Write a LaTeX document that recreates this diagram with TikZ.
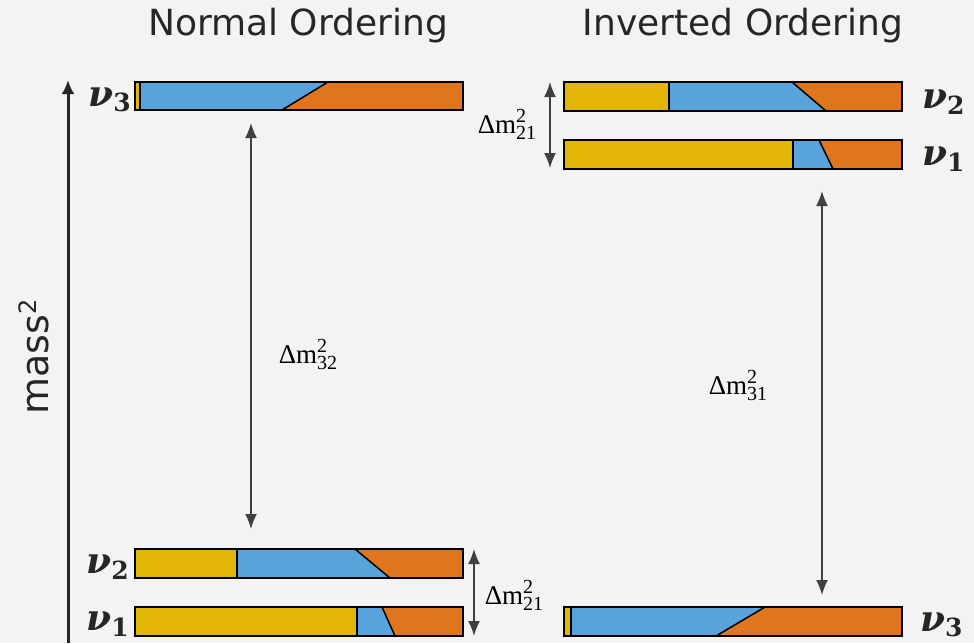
\documentclass[tikz,border=0pt]{standalone}
\usepackage{fontspec}
\setsansfont{DejaVu Sans}
\newfontfamily\nufont{DejaVu Serif}
\newfontfamily\dmfont{Liberation Serif}
\usetikzlibrary{arrows.meta}
\definecolor{bg}{HTML}{F3F3F3}
\definecolor{cy}{HTML}{E3B505}
\definecolor{cb}{HTML}{58A3DC}
\definecolor{co}{HTML}{DF761E}
\definecolor{ink}{HTML}{404040}
\definecolor{axisc}{HTML}{262626}
\newcommand{\mixbar}[8]{%
  % name, x1, y1, x2, y2, yellow end, diagonal top, diagonal bottom
  \fill[cy] (#2,#3) rectangle (#6,#5);
  \fill[cb] (#6,#3) -- (#7,#3) -- (#8,#5) -- (#6,#5) -- cycle;
  \fill[co] (#7,#3) -- (#4,#3) -- (#4,#5) -- (#8,#5) -- cycle;
  \draw[barline] (#6,#3) -- (#6,#5);
  \draw[barline] (#7,#3) -- (#8,#5);
  \pgfmathsetmacro{\mbw}{#4-#2}\pgfmathsetmacro{\mbh}{#5-#3}
  \node[barbox, minimum width=\mbw pt, minimum height=\mbh pt, anchor=north west] (#1) at (#2,#3) {};
}
\newcommand{\nulab}[1]{{\bfseries\itshape ν}\raisebox{-0.3ex}{\bfseries\fontsize{25}{27}\selectfont #1}}
\newcommand{\dmlab}[1]{Δm\raisebox{-6pt}{\fontsize{20}{16}\selectfont\vbox{\baselineskip=17pt\lineskiplimit=-100pt\lineskip=0pt\hbox{2}\hbox{#1}}}}
\begin{document}
\begin{tikzpicture}[x=1pt,y=-1pt,
  barline/.style={black, line width=1.5pt},
  barbox/.style={draw=black, line width=1.5pt, inner sep=0pt, outer sep=0pt},
  title/.style={font=\sffamily\fontsize{36}{38}\selectfont, text=axisc},
  nulabel/.style={font=\nufont\fontsize{36}{38}\selectfont, text=axisc, inner sep=0pt},
  dmlabel/.style={font=\dmfont\fontsize{27}{29}\selectfont, text=black, inner sep=0pt},
  dimarrow/.style={ink, line width=1.6pt, {Latex[length=15pt,width=12pt]}-{Latex[length=15pt,width=12pt]}},
]
\fill[bg] (0,0) rectangle (974,643);
\useasboundingbox (0,0) rectangle (974,643);

% titles
\node[title] (tno) at (298,26) {Normal Ordering};
\node[title] (tio) at (743,26) {Inverted Ordering};

% mass axis
\coordinate (axb) at (68,643);
\coordinate (axt) at (68,80);
\draw[axisc, line width=3pt, -{Latex[length=14pt,width=13pt]}] (axb) -- (axt);
\node[font=\sffamily\fontsize{38}{40}\selectfont, text=axisc, rotate=90] (mass) at (34,357) {mass\raisebox{0.6ex}{\fontsize{24}{26}\selectfont 2}};

% Normal ordering bars
\mixbar{no3}{135}{82}{463}{110}{140}{328}{282}
\mixbar{no2}{135}{549}{463}{578}{237}{355}{390}
\mixbar{no1}{135}{607}{463}{636}{357}{382}{395}

% Inverted ordering bars
\mixbar{io2}{564}{82}{902}{111}{669}{792}{826}
\mixbar{io1}{564}{140}{902}{169}{793}{819}{833}
\mixbar{io3}{564}{607}{902}{636}{571}{765}{716}

% nu labels
\node[nulabel, anchor=east] (lno3) at (131,100) {\nulab{3}};
\node[nulabel, anchor=east] (lno2) at (129,567) {\nulab{2}};
\node[nulabel, anchor=east] (lno1) at (129,624) {\nulab{1}};
\node[nulabel, anchor=west] (lio2) at (922,102) {\nulab{2}};
\node[nulabel, anchor=west] (lio1) at (922,159) {\nulab{1}};
\node[nulabel, anchor=west] (lio3) at (920,625) {\nulab{3}};

% mass splittings
\coordinate (a32t) at (251,123);
\coordinate (a32b) at (251,529);
\draw[dimarrow] (a32t) -- (a32b);
\node[dmlabel] (d32) at (308,354) {\dmlab{32}};

\coordinate (a21nt) at (474,549);
\coordinate (a21nb) at (474,636);
\draw[dimarrow] (a21nt) -- (a21nb);
\node[dmlabel] (d21n) at (514,595) {\dmlab{21}};

\coordinate (a21it) at (550,82);
\coordinate (a21ib) at (550,168);
\draw[dimarrow] (a21it) -- (a21ib);
\node[dmlabel] (d21i) at (507,124) {\dmlab{21}};

\coordinate (a31t) at (822,191);
\coordinate (a31b) at (822,595);
\draw[dimarrow] (a31t) -- (a31b);
\node[dmlabel] (d31) at (738,385) {\dmlab{31}};
\end{tikzpicture}
\end{document}
